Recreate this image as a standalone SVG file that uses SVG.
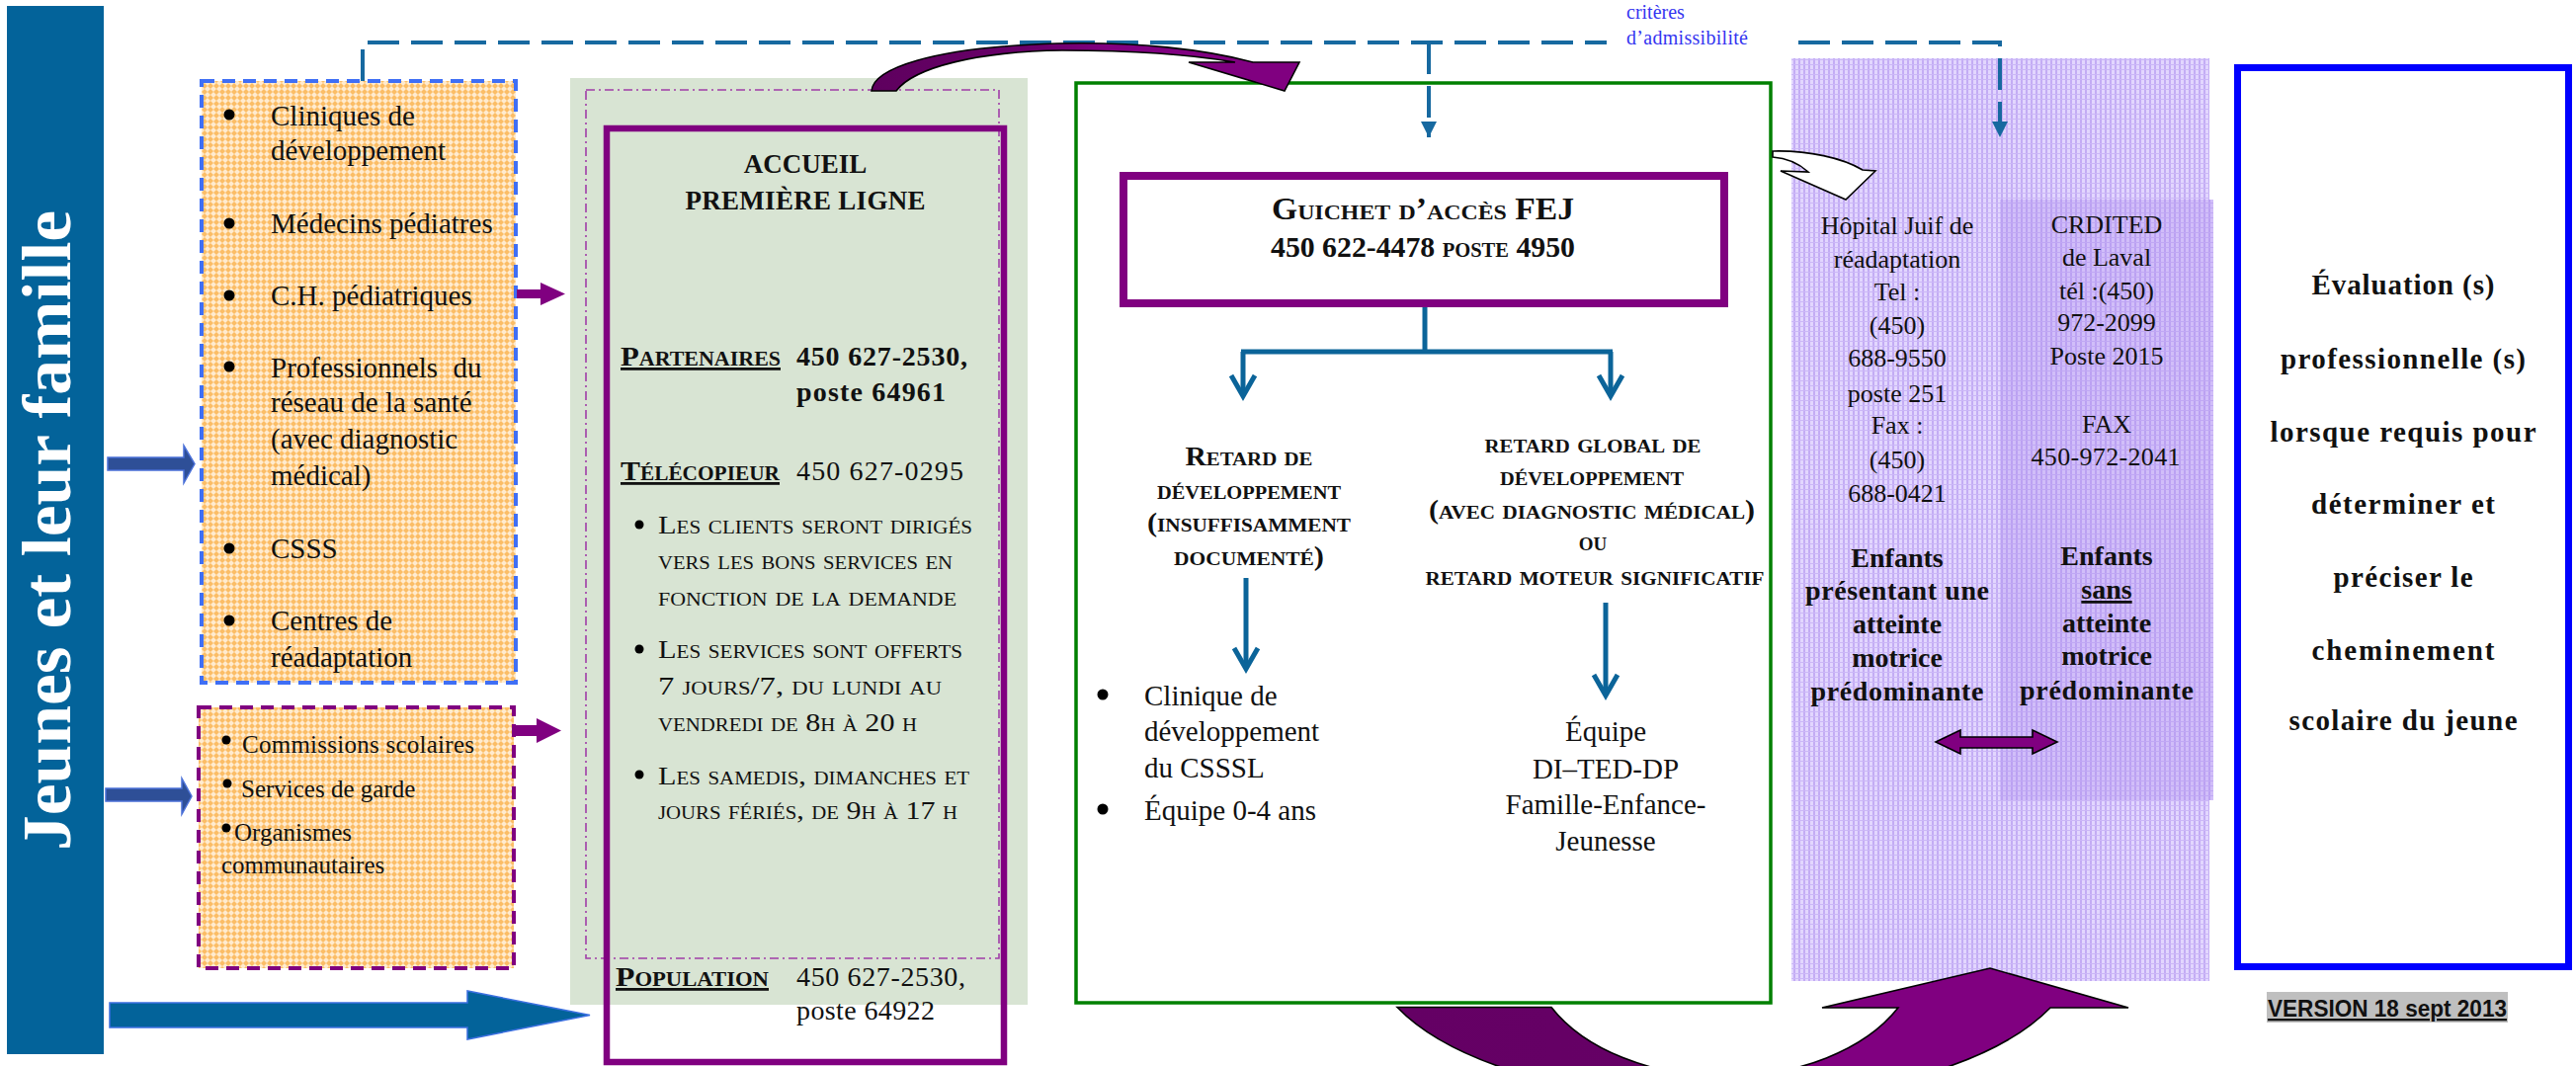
<svg xmlns="http://www.w3.org/2000/svg" width="2607" height="1079" viewBox="0 0 2607 1079">
<style>
text{font-family:"Liberation Serif","Times New Roman",serif;fill:#111}
.b{font-weight:bold}
.sc{font-variant:small-caps}
.u{text-decoration:underline}
.m{text-anchor:middle}
.f29{font-size:29px}
.f26{font-size:26px}
.f25{font-size:25px}
.f27{font-size:27px}
.f28{font-size:28px}
.dash{fill:none;stroke:#1769A0;stroke-width:4;stroke-dasharray:32 12}
.tree{fill:none;stroke:#0B6499;stroke-width:5}
.blk{stroke:#000;stroke-width:1.6}
</style>
<defs>
<pattern id="pOrange" width="6" height="6" patternUnits="userSpaceOnUse">
<rect width="6" height="6" fill="#FFEBCF"/>
<path d="M0,3 L3,0 L6,3 L3,6 Z" fill="#FBBD66"/>
</pattern>
<pattern id="pLav" width="5" height="5" patternUnits="userSpaceOnUse">
<rect width="5" height="5" fill="#E2D6FE"/>
<rect width="2" height="5" fill="#C3ACF4"/>
<rect width="5" height="1" fill="#CBB7F7"/>
</pattern>
<linearGradient id="gTop" x1="0" y1="0" x2="1" y2="0">
<stop offset="0" stop-color="#5E005E"/>
<stop offset="0.4" stop-color="#6A006A"/>
<stop offset="0.55" stop-color="#800080"/>
<stop offset="1" stop-color="#800080"/>
</linearGradient>
<linearGradient id="gU" gradientUnits="userSpaceOnUse" x1="1414" y1="0" x2="2154" y2="0">
<stop offset="0" stop-color="#640064"/>
<stop offset="0.44" stop-color="#660066"/>
<stop offset="0.47" stop-color="#800080"/>
<stop offset="1" stop-color="#800080"/>
</linearGradient>
<marker id="mTri" viewBox="0 0 16 16" refX="16" refY="8" markerWidth="16" markerHeight="16" markerUnits="userSpaceOnUse" orient="auto">
<path d="M0,0 L16,8 L0,16 Z" fill="#1769A0"/>
</marker>
<marker id="mV" viewBox="0 0 26 28" refX="23" refY="14" markerWidth="26" markerHeight="28" markerUnits="userSpaceOnUse" orient="auto" style="overflow:visible">
<path d="M2,2 L23,14 L2,26" fill="none" stroke="#0B6499" stroke-width="5" stroke-linejoin="miter"/>
</marker>
</defs>

<rect width="2607" height="1079" fill="#fff"/>

<g id="jeunes-famille">
<rect x="7" y="6" width="98" height="1061" fill="#03639A"/>
<text class="b" transform="translate(71,537) rotate(-90)" text-anchor="middle" font-size="70" textLength="648" lengthAdjust="spacingAndGlyphs" style="fill:#fff">Jeunes et leur famille</text>
</g>

<g id="sources-sante">
<rect x="204" y="82" width="318" height="609" fill="url(#pOrange)" stroke="#3F6FF5" stroke-width="4" stroke-dasharray="13 8"/>
<g fill="#000">
<circle cx="232" cy="116" r="5.5"/><circle cx="232" cy="226" r="5.5"/><circle cx="232" cy="299" r="5.5"/><circle cx="232" cy="371" r="5.5"/><circle cx="232" cy="555" r="5.5"/><circle cx="232" cy="628" r="5.5"/>
</g>
<g class="f29">
<text x="274" y="127">Cliniques de</text>
<text x="274" y="162">développement</text>
<text x="274" y="236">Médecins pédiatres</text>
<text x="274" y="309">C.H. pédiatriques</text>
<text x="274" y="382" word-spacing="8">Professionnels du</text>
<text x="274" y="417">réseau de la santé</text>
<text x="274" y="454">(avec diagnostic</text>
<text x="274" y="491">médical)</text>
<text x="274" y="565">CSSS</text>
<text x="274" y="638">Centres de</text>
<text x="274" y="675">réadaptation</text>
</g>
</g>

<g id="sources-communautaires">
<rect x="201" y="716" width="319" height="264" fill="url(#pOrange)" stroke="#800080" stroke-width="4" stroke-dasharray="13 8"/>
<g fill="#000"><circle cx="229" cy="749" r="4.5"/><circle cx="230" cy="793" r="4.5"/><circle cx="229" cy="838" r="4.5"/></g>
<text class="f25" x="245" y="762" textLength="235">Commissions scolaires</text>
<text class="f25" x="244" y="807">Services de garde</text>
<text class="f25" x="237" y="851">Organismes</text>
<text class="f25" x="224" y="884">communautaires</text>
</g>

<g id="accueil">
<rect x="577" y="79" width="463" height="938" fill="#D8E4D3"/>
<rect x="593" y="91" width="418" height="879" fill="none" stroke="#A03CA8" stroke-width="1.6" stroke-dasharray="9 4 2 4"/>
<rect x="614" y="130" width="402" height="945" fill="none" stroke="#800080" stroke-width="6.5"/>
<text class="b m f27" x="815" y="175">ACCUEIL</text>
<text class="b m f27" x="815" y="212" textLength="243">PREMIÈRE LIGNE</text>
<text class="b sc u f28" x="628" y="370" textLength="162" lengthAdjust="spacingAndGlyphs">Partenaires</text>
<text class="b f28" x="806" y="370" textLength="173">450 627-2530,</text>
<text class="b f28" x="806" y="406" textLength="151">poste 64961</text>
<text class="b sc u f28" x="628" y="486" textLength="161" lengthAdjust="spacingAndGlyphs">Télécopieur</text>
<text class="f28" x="806" y="486" textLength="169">450  627-0295</text>
<g fill="#000"><circle cx="647" cy="531" r="4.5"/><circle cx="647" cy="657" r="4.5"/><circle cx="647" cy="784" r="4.5"/></g>
<g class="sc f26">
<text x="666" y="540" textLength="318" lengthAdjust="spacingAndGlyphs">Les clients seront dirigés</text>
<text x="666" y="576" textLength="298" lengthAdjust="spacingAndGlyphs">vers les bons services en</text>
<text x="666" y="613" textLength="302" lengthAdjust="spacingAndGlyphs">fonction de la demande</text>
<text x="666" y="666" textLength="308" lengthAdjust="spacingAndGlyphs">Les services sont offerts</text>
<text x="666" y="703" textLength="287" lengthAdjust="spacingAndGlyphs">7 jours/7, du  lundi au</text>
<text x="666" y="740" textLength="262" lengthAdjust="spacingAndGlyphs">vendredi de 8h à 20 h</text>
<text x="666" y="794" textLength="315" lengthAdjust="spacingAndGlyphs">Les samedis, dimanches et</text>
<text x="666" y="829" textLength="303" lengthAdjust="spacingAndGlyphs">jours fériés, de 9h à 17 h</text>
</g>
<text class="b sc u f28" x="623" y="998" textLength="155" lengthAdjust="spacingAndGlyphs">Population</text>
<text class="f28" x="806" y="998" textLength="171">450 627-2530,</text>
<text class="f28" x="806" y="1032" textLength="140">poste 64922</text>
</g>

<g id="acces-fej">
<rect x="1089" y="84" width="703" height="931" fill="#fff" stroke="#008000" stroke-width="3.5"/>
</g>

<g id="guichet">
<rect x="1137" y="178" width="608" height="129" fill="#fff" stroke="#800080" stroke-width="8"/>
<text class="b sc m" x="1440" y="222" font-size="31" textLength="306" lengthAdjust="spacingAndGlyphs">Guichet d’accès FEJ</text>
<text class="b sc m" x="1440" y="260" font-size="29" textLength="308" lengthAdjust="spacingAndGlyphs">450 622-4478 poste 4950</text>
</g>

<g id="retard-developpement" class="b sc m f27">
<text x="1264" y="471" textLength="129" lengthAdjust="spacingAndGlyphs">Retard de</text>
<text x="1264" y="505" textLength="186" lengthAdjust="spacingAndGlyphs">développement</text>
<text x="1264" y="538" textLength="206" lengthAdjust="spacingAndGlyphs">(insuffisamment</text>
<text x="1264" y="572" textLength="152" lengthAdjust="spacingAndGlyphs">documenté)</text>
</g>

<g id="retard-global" class="b sc m f27">
<text x="1612" y="458" textLength="219" lengthAdjust="spacingAndGlyphs">retard global de</text>
<text x="1611" y="491" textLength="186" lengthAdjust="spacingAndGlyphs">développement</text>
<text x="1611" y="525" textLength="330" lengthAdjust="spacingAndGlyphs">(avec diagnostic médical)</text>
<text x="1612" y="557">ou</text>
<text x="1614" y="592" textLength="343" lengthAdjust="spacingAndGlyphs">retard moteur significatif</text>
</g>

<g id="clinique-developpement">
<g fill="#000"><circle cx="1116" cy="703" r="5.5"/><circle cx="1116" cy="819" r="5.5"/></g>
<text class="f29" x="1158" y="714">Clinique de</text>
<text class="f29" x="1158" y="750">développement</text>
<text class="f29" x="1158" y="787">du CSSSL</text>
<text class="f29" x="1158" y="830">Équipe 0-4 ans</text>
</g>

<g id="equipe-di-ted-dp" class="f29 m">
<text x="1625" y="750">Équipe</text>
<text x="1625" y="788">DI–TED-DP</text>
<text x="1625" y="824">Famille-Enfance-</text>
<text x="1625" y="861">Jeunesse</text>
</g>

<g id="readaptation">
<rect x="1813" y="59" width="423" height="934" fill="url(#pLav)"/>
<rect x="2024" y="202" width="216" height="608" fill="url(#pLav)"/>
<rect x="2024" y="202" width="216" height="608" fill="#A987EE" opacity="0.3"/>
</g>

<g id="hopital-juif" class="m">
<g class="f26">
<text x="1920" y="237">Hôpital Juif de</text>
<text x="1920" y="271">réadaptation</text>
<text x="1920" y="304">Tel :</text>
<text x="1920" y="338">(450)</text>
<text x="1920" y="371">688-9550</text>
<text x="1920" y="407">poste 251</text>
<text x="1920" y="439">Fax :</text>
<text x="1920" y="474">(450)</text>
<text x="1920" y="508">688-0421</text>
</g>
<g class="b f28">
<text x="1920" y="574">Enfants</text>
<text x="1920" y="607" textLength="186">présentant une</text>
<text x="1920" y="641">atteinte</text>
<text x="1920" y="675">motrice</text>
<text x="1920" y="709" textLength="175">prédominante</text>
</g>
</g>

<g id="crdited" class="m">
<g class="f26">
<text x="2132" y="236">CRDITED</text>
<text x="2132" y="269">de Laval</text>
<text x="2132" y="303">tél :(450)</text>
<text x="2132" y="335">972-2099</text>
<text x="2132" y="369">Poste 2015</text>
<text x="2132" y="438">FAX</text>
<text x="2131" y="471" textLength="151">450-972-2041</text>
</g>
<g class="b f28">
<text x="2132" y="572">Enfants</text>
<text class="u" x="2132" y="606">sans</text>
<text x="2132" y="640">atteinte</text>
<text x="2132" y="673">motrice</text>
<text x="2132" y="708" textLength="176">prédominante</text>
</g>
</g>

<g id="evaluation">
<rect x="2264.5" y="68.5" width="335" height="910" fill="#fff" stroke="#0000FF" stroke-width="7"/>
<g class="b m f29">
<text x="2432" y="298" textLength="185">Évaluation (s)</text>
<text x="2432" y="373" textLength="248">professionnelle (s)</text>
<text x="2432" y="447" textLength="269">lorsque requis pour</text>
<text x="2432" y="520" textLength="186">déterminer et</text>
<text x="2432" y="594" textLength="141">préciser le</text>
<text x="2432" y="668" textLength="185">cheminement</text>
<text x="2432" y="739" textLength="231">scolaire du jeune</text>
</g>
</g>

<g id="version">
<rect x="2294" y="1004" width="244" height="31" fill="#BFBFBF"/>
<text class="u" x="2295" y="1029" textLength="242" lengthAdjust="spacingAndGlyphs" style="font-family:'Liberation Sans',Arial,sans-serif;font-weight:bold;font-size:23px">VERSION 18 sept 2013</text>
</g>

<g id="connectors">
<path class="dash" d="M367,82 V43 H1626"/>
<path class="dash" d="M1820,43 H2024 V139" marker-end="url(#mTri)"/>
<path class="dash" d="M1446,43 V139" marker-end="url(#mTri)"/>
<text x="1646" y="19" font-size="20" style="fill:#3535F0">critères</text>
<text x="1646" y="45" font-size="20" style="fill:#3535F0" textLength="123">d’admissibilité</text>

<path class="tree" d="M1442,311 V356 M1256,356 H1632"/>
<path class="tree" d="M1258,356 V401" marker-end="url(#mV)"/>
<path class="tree" d="M1630,356 V401" marker-end="url(#mV)"/>
<path class="tree" d="M1261,585 V677" marker-end="url(#mV)"/>
<path class="tree" d="M1625,610 V704" marker-end="url(#mV)"/>

<path d="M523,293 H547 V286 L572,297.5 L547,309 V302 H523 Z" fill="#800080"/>
<path d="M520,734 H543 V727 L568,739.5 L543,752 V745 H520 Z" fill="#800080"/>

<path d="M109,463 H186 V451 L197,469.5 L186,489 V476 H109 Z" fill="#2E4F97" stroke="#4A70D8" stroke-width="1.5"/>
<path d="M107,798 H184 V788 L194,806 L184,824 V811 H107 Z" fill="#2E4F97" stroke="#4A70D8" stroke-width="1.5"/>
<path d="M111,1015 H473 V1003 L597,1027.5 L473,1052 V1040 H111 Z" fill="#03639A" stroke="#3B6FE0" stroke-width="1.5"/>

<path class="blk" d="M882,92 C884,70 940,48 1070,44 C1150,42 1220,50 1268,63 L1315,63 L1300,92 L1203,63 L1250,63 C1210,56 1150,51 1075,51 C990,52 925,68 907,92 Z" fill="url(#gTop)"/>
<path class="blk" d="M1794,153 C1830,152 1865,160 1885,172 L1898,173 L1868,202 L1802,173 L1830,174 C1820,165 1808,160 1794,159 Z" fill="#fff"/>
<path class="blk" d="M1414,1019.5 A358,154 0 0 0 2075,1020 L2154,1020 L2014,980 L1844,1020 L1921,1020 A197,128 0 0 1 1570,1019.5 Z" fill="url(#gU)"/>
<path class="blk" d="M1959,751 L1984,739 V746 H2057 V739 L2082,751 L2057,763 V757 H1984 V763 Z" fill="#800080"/>
</g>
</svg>
